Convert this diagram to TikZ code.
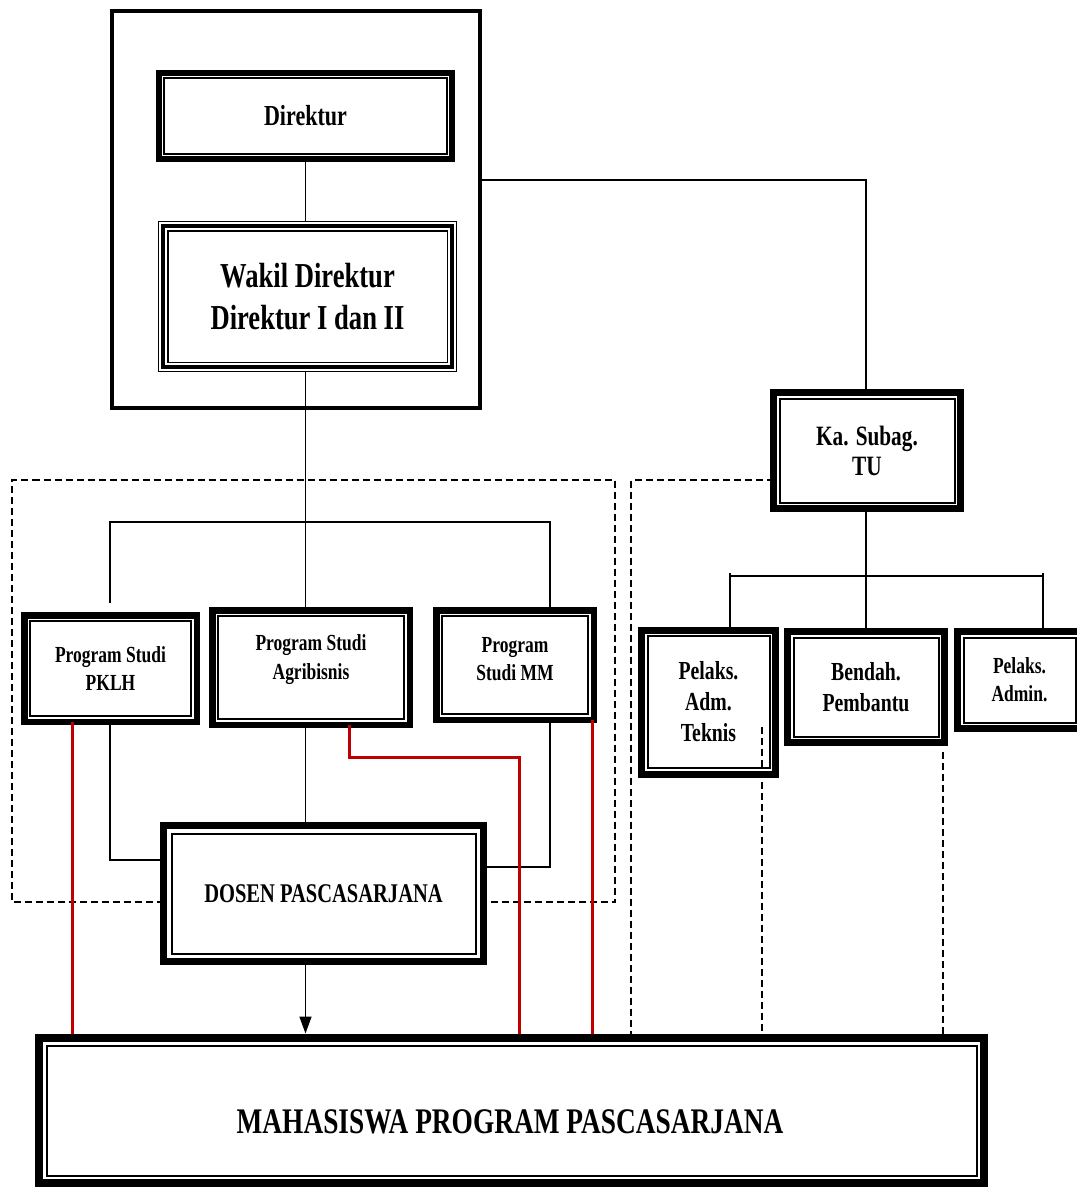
\documentclass[tikz,border=0pt]{standalone}
\usepackage{fontspec}
\setmainfont{Liberation Serif}[FakeStretch=0.76]
\usetikzlibrary{arrows.meta,calc}
\definecolor{dred}{RGB}{192,0,0}
\newcommand\fsz[2]{\bfseries\fontsize{#1}{#2}\selectfont}
\tikzset{
  conn/.style={line width=1.5pt, draw=black},
  redl/.style={line width=3pt, draw=dred},
  dsh/.style={line width=1.6pt, dash pattern=on 7pt off 4pt},
  bx/.style 2 args={draw, line width=#1, inner sep=0pt, outer sep=0pt, align=center,
    path picture={\draw[line width=2pt] ($(path picture bounding box.south west)+(#2,#2)$) rectangle ($(path picture bounding box.north east)-(#2,#2)$);}},
  tri/.style={draw, line width=1.2pt, inner sep=0pt, outer sep=0pt, align=center,
    path picture={\draw[line width=4pt] ($(path picture bounding box.south west)+(4.3pt,4.3pt)$) rectangle ($(path picture bounding box.north east)-(4.3pt,4.3pt)$);
      \draw[line width=1.8pt] ($(path picture bounding box.south west)+(9pt,9pt)$) rectangle ($(path picture bounding box.north east)-(9pt,9pt)$);}},
  txt/.style={inner sep=0pt, align=center},
}
\begin{document}
\begin{tikzpicture}[x=1pt,y=-1pt]
\useasboundingbox (0,0) rectangle (1077,1187);
\clip (0,0) rectangle (1077,1187);

% boxes
\node[draw, line width=4pt, minimum width=368pt, minimum height=397pt, inner sep=0pt, outer sep=0pt] (grp) at (296,209.5) {};
\node[bx={6pt}{5.2pt}, minimum width=293pt, minimum height=86pt, font=\fsz{29}{31}] (dir) at (305.5,116) {Direktur};
\node[tri, minimum width=297.8pt, minimum height=149.8pt, font=\fsz{35}{42}] (wak) at (307.5,296.5) {Wakil Direktur\\Direktur I dan II};

\node[bx={6.5pt}{5.8pt}, minimum width=172.5pt, minimum height=106.5pt, font=\fsz{23}{28}] (pklh) at (110.5,668.5) {Program Studi\\PKLH};
\node[bx={6.5pt}{5.8pt}, minimum width=197.5pt, minimum height=114.5pt] (agr) at (311,667.5) {};
\node[txt, font=\fsz{23}{29}] (agrt) at (311,660) {Program Studi\\Agribisnis};
\node[bx={6.5pt}{5.8pt}, minimum width=157.5pt, minimum height=109.5pt] (mm) at (515,665) {};
\node[txt, font=\fsz{23}{28}] (mmt) at (515,659) {Program\\Studi MM};

\node[bx={7pt}{8pt}, minimum width=320pt, minimum height=136pt, font=\fsz{27}{30}] (dos) at (323.5,893.5) {DOSEN PASCASARJANA};

\node[bx={7pt}{6pt}, minimum width=187pt, minimum height=116pt, font=\fsz{28}{30}] (ksub) at (867,450.5) {Ka. Subag.\\TU};
\node[bx={7pt}{6pt}, minimum width=134pt, minimum height=144pt, font=\fsz{26}{31}] (pat) at (708.5,702) {Pelaks.\\Adm.\\Teknis};
\node[bx={7pt}{6pt}, minimum width=157pt, minimum height=111pt, font=\fsz{26}{31}] (ben) at (866,687) {Bendah.\\Pembantu};
\node[bx={7pt}{6pt}, minimum width=124pt, minimum height=97pt, font=\fsz{23}{28}] (pad) at (1019.5,680) {Pelaks.\\Admin.};

\node[bx={8pt}{7.5pt}, minimum width=945pt, minimum height=145pt] (mah) at (511.5,1110.5) {};
\node[txt, font=\fsz{36}{40}] (maht) at (510,1122) {MAHASISWA PROGRAM PASCASARJANA};

% coordinates
\coordinate (hl) at (110,522);
\coordinate (hr) at (550,522);
\coordinate (pk1) at (110,603);
\coordinate (pk2) at (110,860);
\coordinate (mm2) at (550,867);
\coordinate (tr) at (866,180);
\coordinate (sl) at (730,576);
\coordinate (sm) at (866,576);
\coordinate (sr) at (1043,576);
\coordinate (dl1) at (12,902);
\coordinate (dl2) at (12,480);
\coordinate (dl3) at (615,480);
\coordinate (dl4) at (615,902);
\coordinate (dr1) at (631,480);
\coordinate (dp) at (762,727);
\coordinate (db) at (943,752);
\coordinate (r1) at (72,0);
\coordinate (r2) at (349,757);
\coordinate (r3) at (519,757);
\coordinate (r4) at (592,0);

% black connectors
\draw[conn] (dir.south) -- (dir.south |- wak.north);
\draw[conn] (wak.south -| dir.south) -- (dir.south |- agr.north);
\draw[conn] (pk1) -- (hl) -- (hr) -- (hr |- mm.north);
\draw[conn] (pklh.south -| pk2) -- (pk2) -- (pk2 -| dos.west);
\draw[conn] (mm.south -| mm2) -- (mm2) -- (mm2 -| dos.east);
\draw[conn] (agr.south -| dir.south) -- (dir.south |- dos.north);
\draw[conn, -{Triangle[length=17pt,width=12pt]}, shorten >=4.5pt] (dos.south -| dir.south) -- (dir.south |- mah.north);

\draw[conn] (grp.east |- tr) -- (tr) -- (tr |- ksub.north);
\draw[conn] (ksub.south -| sm) -- (sm |- ben.north);
\draw[conn] (sl) -- (sr);
\draw[conn] ($(sl)+(0pt,3pt)$) -- (sl |- pat.north);
\draw[conn] ($(sr)+(0pt,3pt)$) -- (sr |- pad.north);

% dashed
\draw[dsh] (dos.west |- dl1) -- (dl1) -- (dl2) -- (dl3) -- (dl4) -- (dos.east |- dl4);
\draw[dsh, shorten >=4pt] (ksub.west |- dr1) -- (dr1) -- (dr1 |- mah.north);
\draw[dsh, shorten >=4pt] (dp) -- (dp |- mah.north);
\draw[dsh, shorten >=4pt] (db) -- (db |- mah.north);

% red
\draw[redl, shorten >=4pt] (pklh.south -| r1) -- (r1 |- mah.north);
\draw[redl, shorten >=4pt] (agr.south -| r2) -- (r2) -- (r3) -- (r3 |- mah.north);
\draw[redl, shorten >=4pt] (mm.south -| r4) -- (r4 |- mah.north);
\end{tikzpicture}
\end{document}
